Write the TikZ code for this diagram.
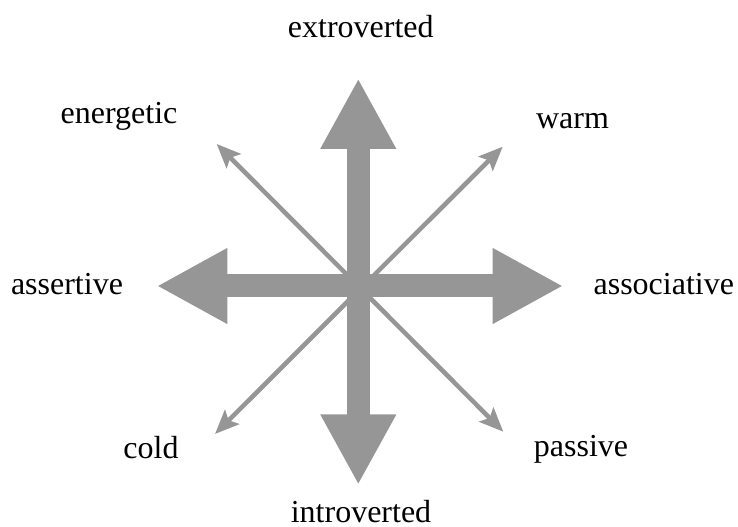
\documentclass[tikz,border=0pt]{standalone}
\usepackage{fontspec}
\setmainfont{Liberation Serif}
\usepackage{tikz}
\usetikzlibrary{arrows.meta, positioning}
\usepackage{xcolor}
\definecolor{arrowgray}{RGB}{150,150,150}
\tikzset{
  trait/.style={anchor=base, inner sep=0pt, font=\fontsize{24}{28}\selectfont},
  bigarrow/.style={draw=arrowgray, line width=17.25pt,
                   {Triangle[length=53pt, width=53pt]}-{Triangle[length=53pt, width=53pt]}},
  smallarrow/.style={draw=arrowgray, line width=3.4pt,
                   {Stealth[length=18pt, width=15pt, inset=3.5pt]}-{Stealth[length=18pt, width=15pt, inset=3.5pt]}},
}

\begin{document}
\begin{tikzpicture}[x=0.75pt, y=0.75pt]
    \useasboundingbox (-358.3,-241) rectangle (379.7,286);
    % arrow tips
    \coordinate (top)    at (0,207.7);
    \coordinate (bottom) at (0,-199);
    \coordinate (left)   at (-201.6,0);
    \coordinate (right)  at (205,0);
    \coordinate (ul) at (-141.6,142);
    \coordinate (ur) at (144.4,139.3);
    \coordinate (ll) at (-143.3,-148);
    \coordinate (lr) at (145,-145.7);
    % Arrows
    \draw[smallarrow] (ul) -- (lr);
    \draw[smallarrow] (ur) -- (ll);
    \draw[bigarrow] (bottom) -- (top);
    \draw[bigarrow] (left) -- (right);
    % Labels
    \node[trait] (extro)  at (2.5,248.7)    {extroverted};
    \node[trait] (intro)  at (2.7,-236.5)   {introverted};
    \node[trait] (energ)  at (-239.3,162.7) {energetic};
    \node[trait] (warm)   at (214.2,157.7)  {warm};
    \node[trait] (assert) at (-291.3,-9)    {assertive};
    \node[trait] (assoc)  at (305.5,-9)     {associative};
    \node[trait] (cold)   at (-207.3,-172.3){cold};
    \node[trait] (pass)   at (222.7,-170.7) {passive};
  \end{tikzpicture}
\end{document}
